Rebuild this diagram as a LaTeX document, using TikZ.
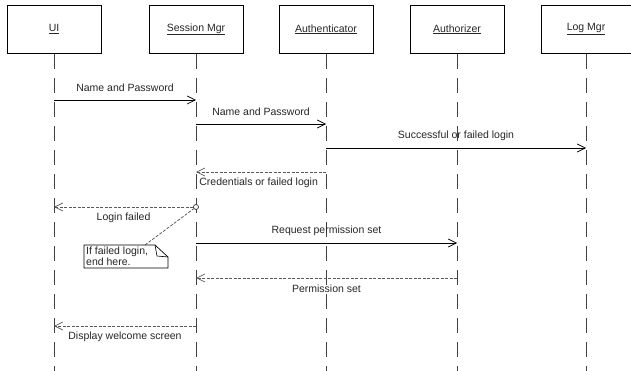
\documentclass[tikz,border=0pt]{standalone}
\usepackage{fontspec}
\setmainfont{Liberation Sans}
\usetikzlibrary{arrows.meta}
\begin{document}
\begin{tikzpicture}[x=1pt,y=-1pt,
  every node/.style={font=\fontsize{10.5}{11.5}\selectfont, text=black!85, inner sep=0pt},
  actor/.style={draw=black, line width=0.8pt, minimum width=94pt, minimum height=48pt, anchor=north},
  lifeline/.style={draw=black!75, line width=1pt, dash pattern=on 15pt off 9pt},
  call/.style={draw=black, line width=0.7pt, -{Straight Barb[length=8pt,width=8pt,line width=0.7pt]}},
  reply/.style={draw=black!65, line width=0.8pt, dash pattern=on 3pt off 1.5pt,
    -{Straight Barb[length=8pt,width=8pt,line width=0.7pt]}},
  above label/.style={midway, yshift=12.5pt},
  below label/.style={midway, yshift=-11pt},
  notebox/.style={draw=black, line width=0.7pt, fill=white},
]
\useasboundingbox (0,0) rectangle (631,371);

% participants
\node[actor] (ui)   at (54,5)  {\underline{UI}};
\node[actor] (sm)   at (196,5) {\underline{Session Mgr}};
\node[actor] (auth) at (326,5) {\underline{Authenticator}};
\node[actor] (authz) at (457,5) {\underline{Authorizer}};
\node[actor, minimum width=90pt] (log) at (586,5) {\underline{Log Mgr}};

% lifelines
\foreach \p in {ui,sm,auth,authz,log}{
  \coordinate (\p-end) at (\p.south |- 0,371);
  \draw[lifeline] (\p.south) -- (\p-end);
}

% message end points on the lifelines
\coordinate (ui-a)    at (ui.south |- 0,100);
\coordinate (sm-a)    at (sm.south |- 0,100);
\coordinate (sm-b)    at (sm.south |- 0,124);
\coordinate (auth-b)  at (auth.south |- 0,124);
\coordinate (auth-c)  at (auth.south |- 0,148);
\coordinate (log-c)   at (log.south |- 0,148);
\coordinate (auth-d)  at (auth.south |- 0,172);
\coordinate (sm-d)    at (sm.south |- 0,172);
\coordinate (ui-e)    at (ui.south |- 0,207);
\coordinate (sm-f)    at (sm.south |- 0,243);
\coordinate (authz-f) at (authz.south |- 0,243);
\coordinate (authz-g) at (authz.south |- 0,278);
\coordinate (sm-g)    at (sm.south |- 0,278);
\coordinate (sm-h)    at (sm.south |- 0,326);
\coordinate (ui-h)    at (ui.south |- 0,326);

% messages
\draw[call] (ui-a) -- (sm-a) node[above label] {Name and Password};
\draw[call] (sm-b) -- (auth-b) node[above label] {Name and Password};
\draw[call] (auth-c) -- (log-c) node[above label] {Successful or failed login};
\draw[reply] (auth-d) -- (sm-d) node[pos=1, anchor=west, xshift=3pt, yshift=-11pt] {Credentials or failed login};
\node[circle, draw=black!80, fill=white, line width=0.7pt, minimum size=5pt] (fork) at (sm.south |- 0,207) {};
\draw[reply] (fork) -- (ui-e) node[below label] {Login failed};
\draw[call] (sm-f) -- (authz-f) node[above label] {Request permission set};
\draw[reply] (authz-g) -- (sm-g) node[below label] {Permission set};
\draw[reply] (sm-h) -- (ui-h) node[below label] {Display welcome screen};

% note with folded corner
\coordinate (n-tl) at (84,245);
\coordinate (n-ear) at (155,245);
\coordinate (n-er) at (168,257);
\coordinate (n-br) at (168,268);
\coordinate (n-bl) at (84,268);
\coordinate (n-hook) at (145,245);
\draw[notebox] (n-tl) -- (n-ear) -- (n-er) -- (n-br) -- (n-bl) -- cycle;
\draw[line width=0.6pt] (n-ear) -- (157,256) -- (n-er);
\node[anchor=north west, align=left] (note) at (86,246.5) {If failed login,\\end here.};
\draw[draw=black!70, line width=0.7pt, dash pattern=on 3pt off 1.5pt] (n-hook) -- (fork);
\end{tikzpicture}
\end{document}
